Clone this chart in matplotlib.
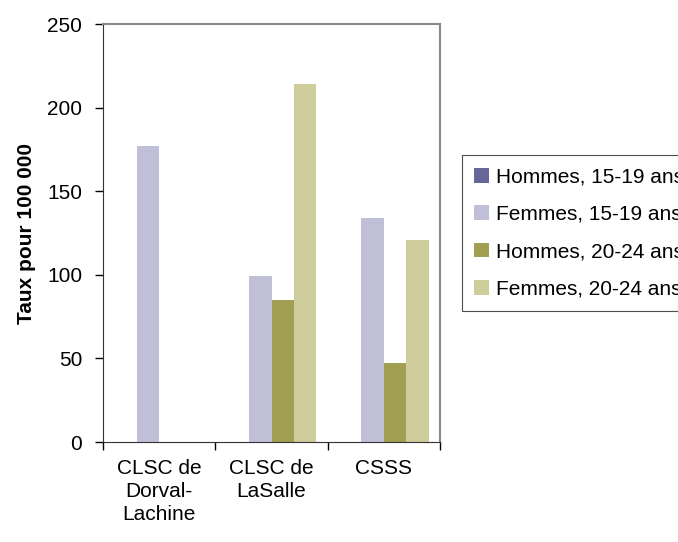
import matplotlib
matplotlib.use("Agg")
import matplotlib.pyplot as plt
import numpy as np

plt.rcParams['font.family'] = ['Liberation Sans', 'DejaVu Sans']

categories = ["CLSC de\nDorval-\nLachine", "CLSC de\nLaSalle", "CSSS"]
series = ["Hommes, 15-19 ans", "Femmes, 15-19 ans", "Hommes, 20-24 ans", "Femmes, 20-24 ans"]
hommes_15_19 = [0, 0, 0]
femmes_15_19 = [177, 99, 134]
hommes_20_24 = [0, 85, 47]
femmes_20_24 = [0, 214, 121]
colors = ['#666699', '#BFBFD8', '#A19F51', '#CECC9A']

fig = plt.figure(figsize=(6.78, 5.42), dpi=100)
ax = fig.add_axes([103 / 678, 1 - 442 / 542, 337 / 678, 418 / 542])

x = np.arange(len(categories))
w = 0.2
values = [hommes_15_19, femmes_15_19, hommes_20_24, femmes_20_24]
for i, (vals, name, c) in enumerate(zip(values, series, colors)):
    ax.bar(x + (i - 1.5) * w, vals, width=w, color=c, label=name, linewidth=0)

ax.set_xlim(-0.5, 2.5)
ax.set_ylim(0, 250)
ax.set_yticks([0, 50, 100, 150, 200, 250])
ax.set_xticks(x)
ax.set_xticklabels(categories, fontsize=15, linespacing=1.28)
ax.set_xticks([-0.5, 0.5, 1.5, 2.5], minor=True)
ax.tick_params(axis='x', which='major', length=0, pad=12)
ax.tick_params(axis='x', which='minor', length=6, width=1, direction='out')
ax.tick_params(axis='y', length=6, width=1, direction='out', labelsize=15, pad=9)
ax.set_ylabel("Taux pour 100 000", fontsize=15, fontweight='bold', labelpad=8)

for s in ['top', 'right']:
    ax.spines[s].set_color('#888888')
    ax.spines[s].set_linewidth(1.5)
ax.spines['left'].set_color('#333333')
ax.spines['bottom'].set_color('#333333')

leg = fig.legend(loc='upper left', bbox_to_anchor=(462 / 678, 1 - 155 / 542),
                 fontsize=15, frameon=True, fancybox=False, edgecolor='#222222',
                 handlelength=0.7, handleheight=0.7, handletextpad=0.35,
                 labelspacing=0.88, borderpad=0.6, borderaxespad=0)
leg.get_frame().set_linewidth(0.8)

fig.savefig("out.png", dpi=100)
